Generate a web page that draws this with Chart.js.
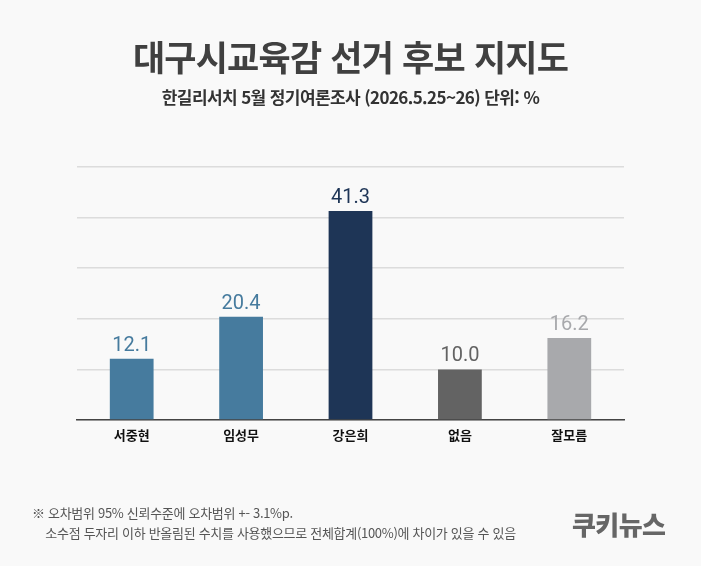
<!DOCTYPE html>
<html lang="ko">
<head>
<meta charset="utf-8">
<script src="https://cdn.jsdelivr.net/npm/chart.js@4"></script>
<style>
  body { margin: 0; background: #f9f9f9; }
  #wrap { position: relative; width: 701px; height: 566px; background: #f9f9f9; font-family: "Noto Sans CJK KR", "Noto Sans", sans-serif; }
  #titulo { position: absolute; left: 0; width: 701px; top: 30px; text-align: center; font-size: 35px; font-weight: 700; color: #404040; letter-spacing: -0.8px; }
  #sub { position: absolute; left: 0; width: 701px; top: 84px; text-align: center; font-size: 17px; font-weight: 700; color: #333; letter-spacing: -0.6px; }
  #nota { position: absolute; left: 32px; top: 503px; font-size: 13px; color: #555; line-height: 20px; letter-spacing: -0.3px; }
  #logo { position: absolute; left: 572px; top: 505px; font-size: 26px; font-weight: 900; color: #666; letter-spacing: -0.6px; }
  canvas { position: absolute; left: 0; top: 0; }
</style>
</head>
<body>
<div id="wrap">
  <canvas id="grafico-Barras" width="701" height="566"></canvas>
  <div id="titulo">대구시교육감 선거 후보 지지도</div>
  <div id="sub">한길리서치 5월 정기여론조사 (2026.5.25~26) 단위: %</div>
  <div id="nota">※ 오차범위 95% 신뢰수준에 오차범위 +- 3.1%p.<br>&nbsp;&nbsp;&nbsp;&nbsp;소수점 두자리 이하 반올림된 수치를 사용했으므로 전체합계(100%)에 차이가 있을 수 있음</div>
  <div id="logo">쿠키뉴스</div>
</div>
<script>
const candidatos = ["서중현", "임성무", "강은희", "없음", "잘모름"];
const apoyo = [12.1, 20.4, 41.3, 10.0, 16.2];
const colores = ["#467b9e", "#467b9e", "#1e3556", "#636363", "#a8a9ac"];

// etiquetas de valor encima de cada barra
const etiquetas = {
  id: "etiquetas",
  afterDatasetsDraw(chart) {
    const ctx = chart.ctx;
    const meta = chart.getDatasetMeta(0);
    ctx.save();
    ctx.font = "20px Roboto";
    ctx.textAlign = "center";
    ctx.textBaseline = "bottom";
    meta.data.forEach((bar, i) => {
      ctx.fillStyle = colores[i];
      ctx.fillText(apoyo[i].toFixed(1), bar.x, bar.y - 3);
    });
    ctx.restore();
  }
};

document.addEventListener("DOMContentLoaded", () => {
  const lienzo = document.getElementById("grafico-Barras");
  new Chart(lienzo.getContext("2d"), {
    type: "bar",
    data: {
      labels: candidatos,
      datasets: [{
        data: apoyo,
        backgroundColor: colores,
        categoryPercentage: 1,
        barPercentage: 0.4
      }]
    },
    options: {
      responsive: false,
      animation: false,
      layout: { padding: { top: 167, left: 77, right: 77, bottom: 123 } },
      plugins: {
        legend: { display: false },
        tooltip: { enabled: false }
      },
      scales: {
        x: {
          grid: { display: false },
          border: { color: "#444", width: 1.5 },
          ticks: { color: "#111", font: { size: 13, weight: "bold", family: "'Noto Sans CJK KR'", lineHeight: 1 }, padding: 1 }
        },
        y: {
          min: 0,
          max: 50,
          ticks: { display: false, stepSize: 10 },
          border: { display: false },
          grid: { color: "#dcdcdc", lineWidth: 1.5, drawTicks: false }
        }
      }
    },
    plugins: [etiquetas]
  });
});
</script>
</body>
</html>
